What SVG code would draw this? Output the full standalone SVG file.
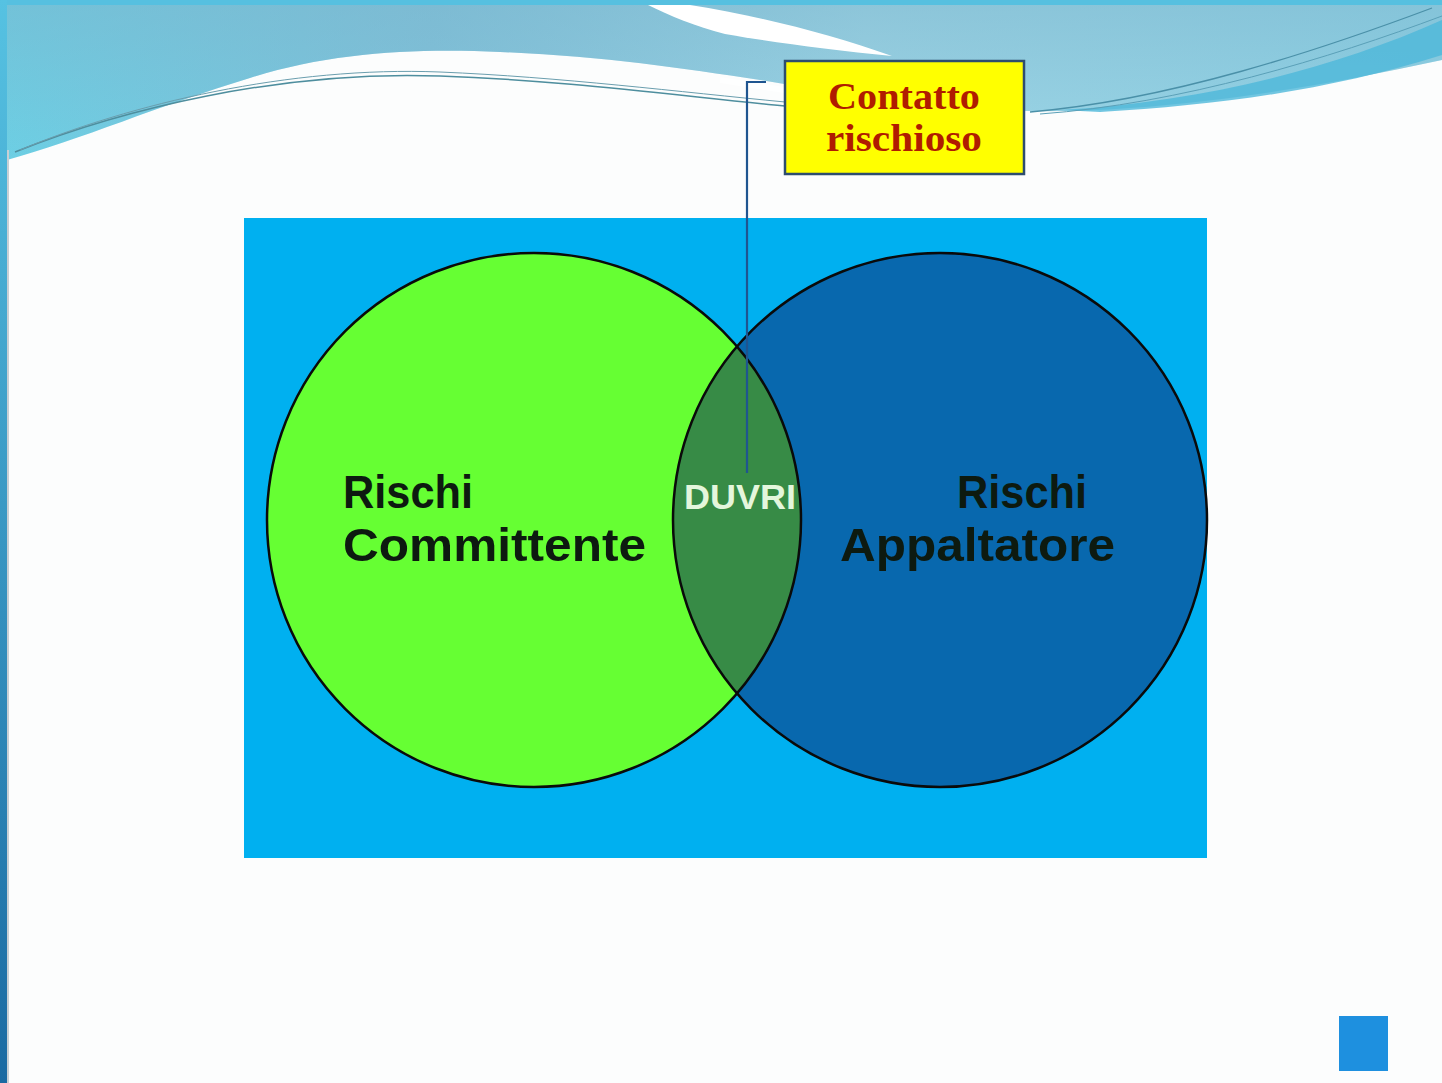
<svg xmlns="http://www.w3.org/2000/svg" width="1442" height="1083" viewBox="0 0 1442 1083">
  <defs>
    <linearGradient id="leftBar" x1="0" y1="0" x2="0" y2="1">
      <stop offset="0" stop-color="#56c2e2"/>
      <stop offset="1" stop-color="#1a6aa2"/>
    </linearGradient>
    <linearGradient id="band" x1="0" y1="0" x2="1" y2="0">
      <stop offset="0" stop-color="#6ccfe4"/>
      <stop offset="0.3" stop-color="#80c2da"/>
      <stop offset="0.6" stop-color="#9fd6e6"/>
      <stop offset="1" stop-color="#8fd3e6"/>
    </linearGradient>
    <linearGradient id="bandV" x1="0" y1="0" x2="0" y2="1">
      <stop offset="0" stop-color="#7ab4cc" stop-opacity="0.5"/>
      <stop offset="1" stop-color="#7ab4cc" stop-opacity="0"/>
    </linearGradient>
    <style>
      .lbl { font-family: "Liberation Sans", Arial, sans-serif; font-weight: bold; fill: #0d1a10; font-size: 47px; }
      .circ { stroke: #0a0a0a; stroke-width: 2.5; }
      .callout { font-family: "Liberation Serif", "Times New Roman", serif; font-weight: bold; fill: #b01c00; font-size: 38px; }
    </style>
  </defs>

  <!-- slide background -->
  <rect x="0" y="0" width="1442" height="1083" fill="#fcfdfd"/>

  <!-- header waves -->
  <path d="M0,0 H1442 V60 C1340,82 1240,100 1130,108 C1060,113 1000,112 940,106 C880,100 820,90 760,80 C680,68 600,56 500,52 C420,48 330,52 250,78 C160,105 80,140 7,160 H0 Z" fill="url(#band)"/>
  <path d="M0,0 H1442 V60 C1340,82 1240,100 1130,108 C1060,113 1000,112 940,106 C880,100 820,90 760,80 C680,68 600,56 500,52 C420,48 330,52 250,78 C160,105 80,140 7,160 H0 Z" fill="url(#bandV)"/>
  <path d="M1060,110 C1200,102 1330,70 1442,20 V55 C1330,90 1220,105 1100,112 Z" fill="#4db8da" opacity="0.8"/>
  <path d="M648,5 L690,5 C760,16 830,34 892,56 C830,50 770,42 725,34 C695,26 670,16 648,5 Z" fill="#ffffff"/>
  <path d="M720,80 C820,96 900,108 980,108" fill="none" stroke="#ffffff" stroke-width="6" opacity="0.7"/>
  <path d="M15,152 C120,110 280,70 440,76 C560,80 680,96 785,106" fill="none" stroke="#4e8e9e" stroke-width="1.5"/>
  <path d="M20,150 C130,104 290,66 440,72 C560,77 680,92 785,102" fill="none" stroke="#6a9eae" stroke-width="1"/>
  <path d="M1030,112 C1170,100 1320,50 1432,8" fill="none" stroke="#4a90a8" stroke-width="1.3"/>
  <path d="M1040,114 C1180,104 1330,58 1442,16" fill="none" stroke="#5aa0b8" stroke-width="1"/>

  <!-- frame -->
  <rect x="0" y="0" width="1442" height="5" fill="#56c0e0"/>
  <rect x="0" y="0" width="7" height="1083" fill="url(#leftBar)"/>
  <rect x="7" y="150" width="2" height="933" fill="#c8cfd4"/>

  <!-- diagram background -->
  <g id="panel">
    <rect x="244" y="218" width="963" height="640" fill="#00b0f0"/>
  </g>

  <g id="committente">
    <circle cx="534" cy="520" r="267" fill="#66ff33"/>
  </g>
  <g id="appaltatore">
    <circle cx="940" cy="520" r="267" fill="#0868ae"/>
  </g>
  <g id="duvri">
    <path d="M737,346.6 A267,267 0 0 1 737,693.4 A267,267 0 0 1 737,346.6 Z" fill="#378b46"/>
  </g>
  <circle cx="534" cy="520" r="267" fill="none" class="circ"/>
  <circle cx="940" cy="520" r="267" fill="none" class="circ"/>

  <text class="lbl" x="343" y="508" textLength="130" lengthAdjust="spacingAndGlyphs">Rischi</text>
  <text class="lbl" x="343" y="561" textLength="303" lengthAdjust="spacingAndGlyphs">Committente</text>
  <text class="lbl" x="957" y="508" textLength="130" lengthAdjust="spacingAndGlyphs">Rischi</text>
  <text class="lbl" x="840" y="561" textLength="275" lengthAdjust="spacingAndGlyphs">Appaltatore</text>
  <text x="684" y="509" font-family="Liberation Sans, Arial, sans-serif" font-weight="bold" font-size="35" fill="#e4f6dc" textLength="112" lengthAdjust="spacingAndGlyphs">DUVRI</text>

  <!-- connector -->
  <g id="connectors">
    <path d="M766,82 H747 V473" fill="none" stroke="#1f5590" stroke-width="2.2"/>
  </g>

  <g id="contatto">
    <rect x="785" y="61" width="239" height="113" fill="#ffff00" stroke="#2e4d6e" stroke-width="2.5"/>
    <text class="callout" x="904" y="109" text-anchor="middle" textLength="152" lengthAdjust="spacingAndGlyphs">Contatto</text>
    <text class="callout" x="904" y="151" text-anchor="middle" textLength="156" lengthAdjust="spacingAndGlyphs">rischioso</text>
  </g>

  <rect x="1339" y="1016" width="49" height="55" fill="#1e90df"/>
</svg>
